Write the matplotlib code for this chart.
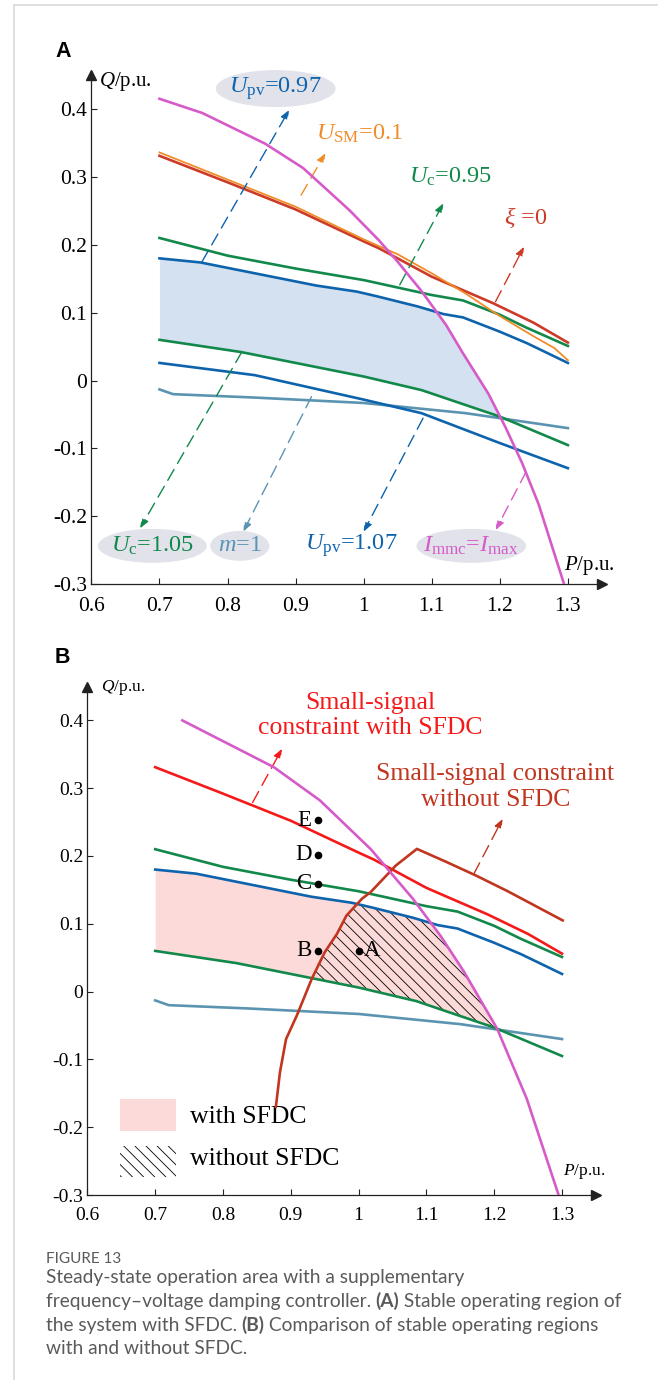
import numpy as np
import matplotlib
matplotlib.use("Agg")
import matplotlib.pyplot as plt
from matplotlib.patches import Ellipse, Rectangle
from matplotlib.lines import Line2D
from matplotlib.transforms import IdentityTransform

# ---------------- data ----------------
x_ticks = [0.6, 0.7, 0.8, 0.9, 1.0, 1.1, 1.2, 1.3]
x_tick_labels = ["0.6", "0.7", "0.8", "0.9", "1", "1.1", "1.2", "1.3"]
y_ticks = [-0.3, -0.2, -0.1, 0.0, 0.1, 0.2, 0.3, 0.4]
y_tick_labels = ["-0.3", "-0.2", "-0.1", "0", "0.1", "0.2", "0.3", "0.4"]

# I_mmc = I_max boundary
mag_P = [0.70, 0.763, 0.855, 0.911, 0.979, 1.022, 1.05, 1.084, 1.121, 1.146, 1.183, 1.208, 1.233, 1.257, 1.2945]
mag_Q = [0.415, 0.394, 0.349, 0.313, 0.251, 0.207, 0.175, 0.133, 0.082, 0.040, -0.019, -0.068, -0.122, -0.182, -0.30]
# same boundary as drawn in panel B (starts later)
magB_P = [0.74, 0.875, 0.943, 1.018, 1.080, 1.121, 1.155, 1.2045, 1.248, 1.295]
magB_Q = [0.400, 0.331, 0.282, 0.210, 0.137, 0.082, 0.030, -0.055, -0.158, -0.30]
# U_SM = 0.1
usm_P = [0.70, 0.80, 0.90, 1.00, 1.05, 1.10, 1.15, 1.20, 1.25, 1.28, 1.30]
usm_Q = [0.336, 0.296, 0.256, 0.208, 0.186, 0.158, 0.128, 0.095, 0.065, 0.048, 0.030]
# xi = 0 (panel A) / small-signal constraint with SFDC (panel B)
xi_P = [0.70, 0.80, 0.90, 1.00, 1.022, 1.10, 1.19, 1.25, 1.30]
xi_Q = [0.331, 0.292, 0.252, 0.205, 0.195, 0.153, 0.114, 0.085, 0.056]
# U_c = 0.95
uc095_P = [0.70, 0.80, 0.90, 1.00, 1.10, 1.146, 1.20, 1.239, 1.30]
uc095_Q = [0.210, 0.184, 0.165, 0.148, 0.126, 0.118, 0.097, 0.078, 0.051]
# U_pv = 0.97
upv097_P = [0.70, 0.76, 0.84, 0.93, 0.99, 1.02, 1.08, 1.117, 1.146, 1.20, 1.24, 1.30]
upv097_Q = [0.180, 0.174, 0.158, 0.140, 0.131, 0.124, 0.109, 0.098, 0.093, 0.072, 0.055, 0.026]
# U_c = 1.05
uc105_P = [0.70, 0.82, 0.92, 1.00, 1.085, 1.20, 1.30]
uc105_Q = [0.060, 0.042, 0.022, 0.006, -0.014, -0.053, -0.095]
# U_pv = 1.07
upv107_P = [0.70, 0.84, 0.92, 1.00, 1.085, 1.20, 1.30]
upv107_Q = [0.026, 0.008, -0.010, -0.028, -0.048, -0.092, -0.129]
# m = 1
m1_P = [0.70, 0.72, 0.84, 1.00, 1.15, 1.30]
m1_Q = [-0.013, -0.020, -0.025, -0.033, -0.048, -0.070]
# small-signal constraint without SFDC (panel B)
noSF_P = [0.878, 0.884, 0.893, 0.909, 0.931, 0.950, 0.968, 0.982, 1.005, 1.018, 1.055, 1.086, 1.13, 1.1735, 1.22, 1.301]
noSF_Q = [-0.170, -0.119, -0.070, -0.035, 0.019, 0.058, 0.085, 0.112, 0.137, 0.147, 0.186, 0.2105, 0.191, 0.171, 0.148, 0.105]
# operating points (panel B)
pt_names = ["E", "D", "C", "B", "A"]
pt_P = [0.94, 0.94, 0.94, 0.94, 1.00]
pt_Q = [0.253, 0.202, 0.159, 0.060, 0.060]

# ---------------- style ----------------
plt.rcParams["mathtext.fontset"] = "custom"
plt.rcParams["mathtext.rm"] = "Liberation Serif"
plt.rcParams["mathtext.it"] = "Liberation Serif:italic"
plt.rcParams["mathtext.bf"] = "Liberation Serif:bold"
plt.rcParams["font.family"] = ["Liberation Serif", "DejaVu Serif"]
plt.rcParams["hatch.linewidth"] = 0.6
plt.rcParams["hatch.color"] = "black"

BLUE = "#0e63ad"
GREEN = "#12894a"
TEAL = "#5b94b1"
MAG = "#d65bc9"
REDA = "#cc3b27"
ORANGE = "#f08c2a"
REDB = "#f51a1a"
DRED = "#c1361f"
FILL_A = "#d4e1f1"
FILL_B = "#fddada"
ELL = "#e2e2eb"
LW = 1.9
HATCH = "\\\\\\"

W, H = 658, 1380
fig = plt.figure(figsize=(W / 100, H / 100), dpi=100)

# frame
fig.add_artist(Line2D([13.9 / W, 13.9 / W], [0, 1 - 4.7 / H], color="#d9d9d9", lw=1.2))
fig.add_artist(Line2D([13.9 / W, 1], [1 - 4.7 / H, 1 - 4.7 / H], color="#d9d9d9", lw=1.2))


def setup_axes(ax, tick_fs):
    ax.set_xlim(0.6, 1.35)
    ax.set_ylim(-0.3, 0.45)
    for s in ["top", "right"]:
        ax.spines[s].set_visible(False)
    for s in ["left", "bottom"]:
        ax.spines[s].set_linewidth(0.9)
        ax.spines[s].set_color("#222222")
    ax.set_xticks(x_ticks)
    ax.set_xticklabels(x_tick_labels)
    ax.set_yticks(y_ticks)
    ax.set_yticklabels(y_tick_labels)
    ax.tick_params(axis="both", direction="in", length=4, width=0.8, labelsize=tick_fs, color="#222222")
    ax.tick_params(axis="x", pad=9)
    ax.tick_params(axis="y", pad=3)
    ax.plot(1, 0, ">", color="#222222", ms=7, transform=ax.transAxes, clip_on=False)
    ax.plot(0, 1, "^", color="#222222", ms=7, transform=ax.transAxes, clip_on=False)
    ax.patch.set_alpha(0)


def darrow(ax, start, end, color):
    ax.annotate("", xy=end, xytext=start,
                arrowprops=dict(arrowstyle="-|>,head_length=0.55,head_width=0.22", color=color,
                                lw=1.0, linestyle=(0, (9, 5)), shrinkA=0, shrinkB=0))


grid = np.linspace(0.7, 1.3, 2401)

# ================= Panel A =================
axA = fig.add_axes([91.4 / W, 1 - 584.3 / H, 510.5 / W, 509.3 / H])
setup_axes(axA, 15.5)

top = np.minimum(np.interp(grid, upv097_P, upv097_Q), np.interp(grid, mag_P, mag_Q, left=1, right=-1))
low = np.interp(grid, uc105_P, uc105_Q)
axA.fill_between(grid, low, top, where=top >= low, interpolate=True, color=FILL_A, lw=0, zorder=1)

axA.plot(m1_P, m1_Q, color=TEAL, lw=LW, zorder=3)
axA.plot(upv107_P, upv107_Q, color=BLUE, lw=LW, zorder=3)
axA.plot(uc105_P, uc105_Q, color=GREEN, lw=LW, zorder=3)
axA.plot(upv097_P, upv097_Q, color=BLUE, lw=LW, zorder=3)
axA.plot(uc095_P, uc095_Q, color=GREEN, lw=LW, zorder=3)
axA.plot(xi_P, xi_Q, color=REDA, lw=LW, zorder=3)
axA.plot(usm_P, usm_Q, color=ORANGE, lw=1.3, zorder=3)
axA.plot(mag_P, mag_Q, color=MAG, lw=LW, zorder=4)

darrow(axA, (0.7625, 0.175), (0.8905, 0.3985), BLUE)
darrow(axA, (0.908, 0.273), (0.9438, 0.3347), ORANGE)
darrow(axA, (1.053, 0.141), (1.117, 0.261), GREEN)
darrow(axA, (1.1936, 0.116), (1.2355, 0.197), REDA)
darrow(axA, (0.8213, 0.0427), (0.6716, -0.2174), GREEN)
darrow(axA, (0.9234, -0.0236), (0.8232, -0.2224), TEAL)
darrow(axA, (1.0872, -0.0554), (1.0, -0.2224), BLUE)
darrow(axA, (1.2388, -0.134), (1.194, -0.220), MAG)

for (cx, cy, w, h) in [(0.8707, 0.430, 0.176, 0.0545), (0.6895, -0.2434, 0.160, 0.050),
                       (0.818, -0.2434, 0.087, 0.044), (1.158, -0.2434, 0.161, 0.050)]:
    axA.add_patch(Ellipse((cx, cy), w, h, facecolor=ELL, edgecolor="none", zorder=2, clip_on=False))

LFS = 17.5
axA.text(0.8707, 0.430, r"$U_{\rm pv}$=0.97", color=BLUE, fontsize=LFS, ha="center", va="center", zorder=5)
axA.text(0.9944, 0.364, r"$U_{\rm SM}$=0.1", color=ORANGE, fontsize=LFS, ha="center", va="center", zorder=5)
axA.text(1.1273, 0.300, r"$U_{\rm c}$=0.95", color=GREEN, fontsize=LFS, ha="center", va="center", zorder=5)
axA.text(1.2386, 0.239, r"$\xi$ =0", color=REDA, fontsize=LFS, ha="center", va="center", zorder=5)
axA.text(0.6895, -0.2434, r"$U_{\rm c}$=1.05", color=GREEN, fontsize=LFS, ha="center", va="center", zorder=5)
axA.text(0.818, -0.2434, r"$m$=1", color=TEAL, fontsize=LFS, ha="center", va="center", zorder=5)
axA.text(0.982, -0.2434, r"$U_{\rm pv}$=1.07", color=BLUE, fontsize=LFS, ha="center", va="center", zorder=5)
axA.text(1.158, -0.2434, r"$I_{\rm mmc}$=$I_{\rm max}$", color=MAG, fontsize=LFS, ha="center", va="center", zorder=5)
axA.text(0.611, 0.440, r"$Q$/p.u.", fontsize=15, ha="left", va="center", clip_on=False)
axA.text(1.2946, -0.2716, r"$P$/p.u.", fontsize=15, ha="left", va="center", clip_on=False)

fig.text(55 / W, 1 - 57.3 / H, "A", fontsize=15.5, fontweight="bold", family="Liberation Sans", va="baseline")

# ================= Panel B =================
axB = fig.add_axes([87.4 / W, 1 - 1195 / H, 508.5 / W, 508.5 / H])
setup_axes(axB, 14)

topB = np.minimum(np.interp(grid, upv097_P, upv097_Q), np.interp(grid, magB_P, magB_Q, left=1, right=-1))
axB.fill_between(grid, low, topB, where=topB >= low, interpolate=True, color=FILL_B, lw=0, zorder=1)
k = int(np.argmax(noSF_Q))
rise = np.interp(grid, noSF_P[:k + 1], noSF_Q[:k + 1], left=-1, right=1)
topH = np.minimum(topB, rise)
axB.fill_between(grid, low, topH, where=topH >= low, interpolate=True, facecolor="none",
                 edgecolor="black", hatch=HATCH, lw=0, zorder=1.5)

axB.plot(m1_P, m1_Q, color=TEAL, lw=LW, zorder=3)
axB.plot(uc105_P, uc105_Q, color=GREEN, lw=LW, zorder=3)
axB.plot(upv097_P, upv097_Q, color=BLUE, lw=LW, zorder=3)
axB.plot(uc095_P, uc095_Q, color=GREEN, lw=LW, zorder=3)
axB.plot(xi_P, xi_Q, color=REDB, lw=LW, zorder=3)
axB.plot(noSF_P, noSF_Q, color=DRED, lw=LW, zorder=4)
axB.plot(magB_P, magB_Q, color=MAG, lw=LW, zorder=4)

darrow(axB, (0.8437, 0.279), (0.887, 0.358), REDB)
darrow(axB, (1.170, 0.1736), (1.2124, 0.2547), DRED)

axB.plot(pt_P, pt_Q, "o", color="black", ms=4.5, zorder=6)
for n, p, q in zip(pt_names, pt_P, pt_Q):
    if n == "A":
        axB.annotate(n, (p, q), xytext=(4, 0), textcoords="offset points", ha="left", va="center", fontsize=16.5, zorder=6)
    else:
        axB.annotate(n, (p, q), xytext=(-4.5, 0), textcoords="offset points", ha="right", va="center", fontsize=16.5, zorder=6)

axB.text(1.0176, 0.407, "Small-signal\nconstraint with SFDC", color=REDB, fontsize=18.5, ha="center",
         va="center", linespacing=1.2)
axB.text(1.2015, 0.3015, "Small-signal constraint\nwithout SFDC", color=DRED, fontsize=18.5, ha="center",
         va="center", linespacing=1.2, clip_on=False)

axB.add_patch(Rectangle((0.648, -0.206), 0.0826, 0.048, facecolor=FILL_B, edgecolor="none"))
axB.add_patch(Rectangle((0.648, -0.274), 0.0826, 0.047, facecolor="none", edgecolor="black", hatch=HATCH, lw=0))
axB.text(0.7518, -0.185, "with SFDC", fontsize=18.5, ha="left", va="center")
axB.text(0.7518, -0.247, "without SFDC", fontsize=18.5, ha="left", va="center")

axB.text(0.620, 0.449, r"$Q$/p.u.", fontsize=12.5, ha="left", va="center", clip_on=False)
axB.text(1.302, -0.266, r"$P$/p.u.", fontsize=12.5, ha="left", va="center", clip_on=False)

fig.text(54.7 / W, 1 - 663.3 / H, "B", fontsize=15.5, fontweight="bold", family="Liberation Sans", va="baseline")

# ================= Caption =================
renderer = fig.canvas.get_renderer()
CAP_FONT = "Lato"
CAP_FS = 13.8
CAP_COL = "#5a5a5a"


def runs(x, y_top, parts, fs=CAP_FS):
    yd = H - y_top
    for txt, wt in parts:
        t = fig.text(x, yd, txt, transform=IdentityTransform(), fontsize=fs, family=CAP_FONT,
                     fontweight=wt, color=CAP_COL, va="baseline")
        x = t.get_window_extent(renderer).x1


runs(45.5, 1263, [("FIGURE 13", "normal")], fs=11)
runs(45.5, 1283.5, [("Steady-state operation area with a supplementary", "normal")])
runs(45.5, 1307, [("frequency\u2013voltage damping controller. ", "normal"), ("(A)", "bold"),
                  (" Stable operating region of", "normal")])
runs(45.5, 1330.5, [("the system with SFDC. ", "normal"), ("(B)", "bold"),
                    (" Comparison of stable operating regions", "normal")])
runs(45.5, 1354, [("with and without SFDC.", "normal")])

fig.savefig("out.png", dpi=100)
